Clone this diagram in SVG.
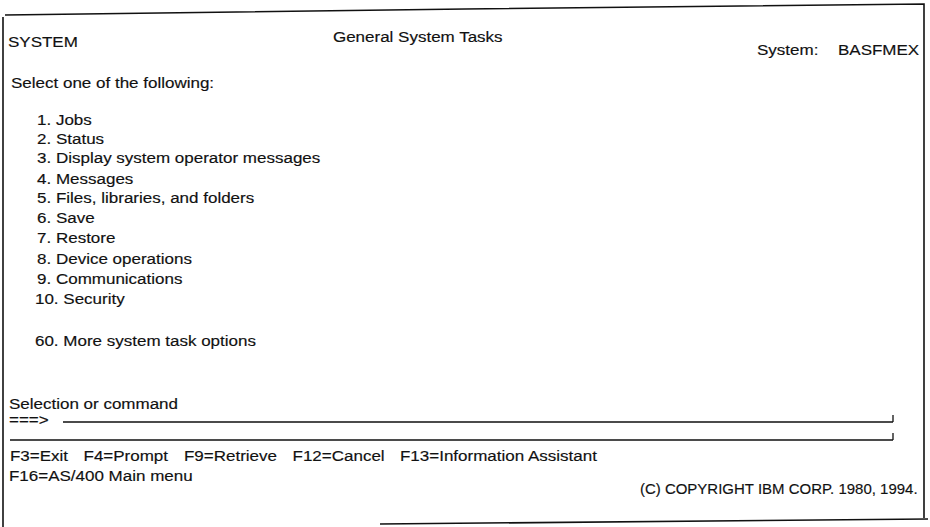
<svg xmlns="http://www.w3.org/2000/svg" width="930" height="527" viewBox="0 0 930 527">
  <style>
    .t { font-family: "Liberation Sans", Arial, sans-serif; font-size: 14px; fill: #111; stroke: #111; stroke-width: 0.15; }
    .frame { fill: none; stroke: #111; stroke-width: 1.6; }
    .field { fill: none; stroke: #111; stroke-width: 1.3; }
  </style>
  <rect width="930" height="527" fill="#fff"/>

  <!-- screen frame -->
  <g id="frame">
    <path class="frame" d="M5 15 L465 9 L924 4 L924 518"/>
    <path class="frame" d="M3 17 L3 527"/>
    <path class="frame" d="M380 524 L928 519"/>
  </g>

  <!-- command entry fields -->
  <g id="entry">
    <path class="field" d="M63 422 L893 422 M893 415 L893 422"/>
    <path class="field" d="M10 440 L893 440 M893 433 L893 440"/>
  </g>

  <!-- all screen text is drawn 14px tall and stretched to the terminal width -->
  <g id="text" transform="scale(1.2143 1)">
    <text class="t" x="6.6" y="47">SYSTEM</text>
    <text class="t" x="274.2" y="42">General System Tasks</text>
    <text class="t" x="623.4" y="55">System:</text>
    <text class="t" x="690.1" y="55">BASFMEX</text>
    <text class="t" x="9.1" y="88">Select one of the following:</text>

    <g id="menu">
      <text class="t" x="30.5" y="125">1. Jobs</text>
      <text class="t" x="30.5" y="144">2. Status</text>
      <text class="t" x="30.5" y="163">3. Display system operator messages</text>
      <text class="t" x="30.5" y="184">4. Messages</text>
      <text class="t" x="30.5" y="203">5. Files, libraries, and folders</text>
      <text class="t" x="30.5" y="223">6. Save</text>
      <text class="t" x="30.5" y="243">7. Restore</text>
      <text class="t" x="30.5" y="264">8. Device operations</text>
      <text class="t" x="30.5" y="284">9. Communications</text>
      <text class="t" x="28.8" y="304">10. Security</text>
      <text class="t" x="28.8" y="346">60. More system task options</text>
    </g>

    <text class="t" x="7.4" y="409">Selection or command</text>
    <text class="t" x="7.4" y="425">===&gt;</text>

    <g id="fkeys">
      <text class="t" x="8.2" y="461">F3=Exit</text>
      <text class="t" x="68.8" y="461">F4=Prompt</text>
      <text class="t" x="151.5" y="461">F9=Retrieve</text>
      <text class="t" x="240.9" y="461">F12=Cancel</text>
      <text class="t" x="329.4" y="461">F13=Information Assistant</text>
      <text class="t" x="7.4" y="481">F16=AS/400 Main menu</text>
    </g>
  </g>

  <!-- copyright line is set a little narrower than the rest -->
  <g id="copyright" transform="scale(1.071 1)">
    <text class="t" x="597.5" y="494">(C) COPYRIGHT IBM CORP. 1980, 1994.</text>
  </g>
</svg>
